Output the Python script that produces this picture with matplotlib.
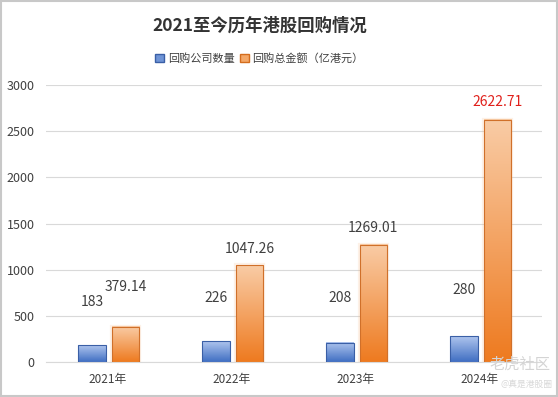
import numpy as np
import matplotlib
matplotlib.use("Agg")
import matplotlib.pyplot as plt
from matplotlib.colors import LinearSegmentedColormap
from matplotlib.patches import Rectangle

plt.rcParams['font.family'] = ['Noto Sans CJK SC', 'DejaVu Sans']

# 数据
years = ['2021年', '2022年', '2023年', '2024年']
company_cnt = [183, 226, 208, 280]
buyback_amt = [379.14, 1047.26, 1269.01, 2622.71]
cnt_labels = ['183', '226', '208', '280']
amt_labels = ['379.14', '1047.26', '1269.01', '2622.71']
yticks = [0, 500, 1000, 1500, 2000, 2500, 3000]

fig = plt.figure(figsize=(5.58, 3.97), dpi=100)
ax = fig.add_axes([0.0824, 0.088, 0.889, 0.698])

x = np.arange(len(years))
w = 0.22
off_b, off_o = 0.13, 0.14

# 渐变色
blue_cm = LinearSegmentedColormap.from_list('b', ['#3f6ec2', '#afc5ee'])
orange_cm = LinearSegmentedColormap.from_list('o', ['#ee7a1f', '#f9cca6'])
grad = np.linspace(0, 1, 256).reshape(-1, 1)

def grad_bars(bars, cmap, edge, glow=None):
    for b in bars:
        x0, y0 = b.get_x(), b.get_y()
        bw, bh = b.get_width(), b.get_height()
        if glow:
            ax.add_patch(Rectangle((x0, y0), bw, bh, fill=False, ec=glow, lw=3,
                                   alpha=0.18, zorder=1.5))
        ax.imshow(grad, cmap=cmap, aspect='auto', origin='lower',
                  extent=[x0, x0 + bw, y0, y0 + bh], zorder=2)
        ax.add_patch(Rectangle((x0, y0), bw, bh, fill=False, ec=edge, lw=0.8, zorder=3))

b1 = ax.bar(x - off_b, company_cnt, w, color='none', label='回购公司数量')
b2 = ax.bar(x + off_o, buyback_amt, w, color='none', label='回购总金额（亿港元）')
grad_bars(b1, blue_cm, '#3a5fa6')
grad_bars(b2, orange_cm, '#d0702a', glow='#f6b57c')

# 数据标签（偏移量单位：points）
cnt_off = [26, 26, 27, 28]
amt_off = [24, 7, 7, 8]
for i in range(len(years)):
    ax.annotate(cnt_labels[i], (x[i] - off_b, company_cnt[i]), xytext=(0, cnt_off[i]),
                textcoords='offset points', ha='center', va='bottom', fontsize=10, color='#404040')
    c = '#e0201b' if i == 3 else '#404040'
    ax.annotate(amt_labels[i], (x[i] + off_o, buyback_amt[i]), xytext=(0, amt_off[i]),
                textcoords='offset points', ha='center', va='bottom', fontsize=10, color=c)

ax.set_xlim(-0.5, 3.5)
ax.set_ylim(0, 3000)
ax.set_yticks(yticks)
ax.set_xticks(x)
ax.set_xticklabels(years)
ax.tick_params(axis='both', length=0, colors='#404040')
ax.tick_params(axis='y', pad=8, labelsize=9)
ax.tick_params(axis='x', pad=8, labelsize=8.5)
ax.grid(axis='y', color='#d9d9d9', lw=0.8, zorder=0)
ax.set_axisbelow(True)
for s in ['top', 'right', 'left']:
    ax.spines[s].set_visible(False)
ax.spines['bottom'].set_color('#d9d9d9')

# 图例
h1 = Rectangle((0, 0), 1, 1, fc='#6f94d6', ec='#3a5fa6')
h2 = Rectangle((0, 0), 1, 1, fc='#f4a868', ec='#d46d1e')
fig.legend([h1, h2], ['回购公司数量', '回购总金额（亿港元）'], loc='center',
           bbox_to_anchor=(0.465, 0.853), ncol=2, frameon=False, fontsize=8,
           handlelength=0.8, handleheight=0.8, handletextpad=0.3, columnspacing=0.5,
           labelcolor='#404040')

fig.text(0.466, 0.935, '2021至今历年港股回购情况', ha='center', va='center',
         fontsize=12.5, fontweight='bold', color='#333333')

# 水印
fig.text(0.986, 0.083, '老虎社区', ha='right', va='center', fontsize=11, color='#d4d4d4')
fig.text(0.99, 0.033, '@真是港股圈', ha='right', va='center', fontsize=6.3, color='#d8d8d8')

# 外框
fig.patches.append(Rectangle((0.002, 0.003), 0.996, 0.994, transform=fig.transFigure,
                             fill=False, ec='#c8c8c8', lw=1.5))

fig.savefig('out.png', dpi=100)
